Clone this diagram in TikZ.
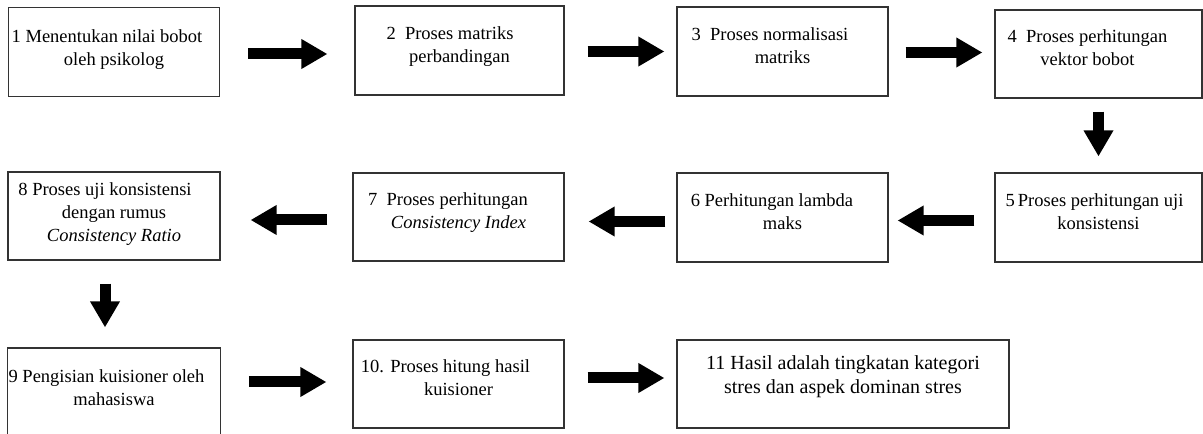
\documentclass[tikz,border=0pt]{standalone}
\usepackage{fontspec}
\setmainfont{Liberation Serif}
\usetikzlibrary{arrows.meta}

\tikzset{
  lift/.style={execute at end node={\rule[-#1]{0pt}{0pt}}},
  box/.style={draw=black!80,line width=1.1pt,rectangle,align=center,
    minimum width=211pt,minimum height=89pt,inner sep=1pt,
    font=\fontsize{18.5}{23}\selectfont,lift=12pt},
  blk/.style={line width=11pt,-{Triangle[length=26pt,width=28pt]}}
}
\newcommand{\gap}[1]{\hspace*{#1pt}}
\newcommand{\tall}[1]{\rule{0pt}{#1pt}}

\begin{document}
\begin{tikzpicture}[x=1pt,y=1pt]
  \useasboundingbox (0,0) rectangle (1203,434);
  % first row
  \node[box,lift=0pt] (b1) at (114,382) {\tall{16.2}1 Menentukan nilai bobot\gap{14}\\oleh psikolog};
  \node[box,minimum width=209pt] (b2) at (459.5,383.5) {2~~Proses matriks\gap{19}\\perbandingan};
  \node[box] (b3) at (782.5,382.5) {3~~Proses normalisasi\gap{25}\\matriks};
  \node[box,minimum width=207pt,minimum height=88pt] (b4) at (1098.5,380) {4~~Proses perhitungan\gap{22}\\vektor bobot\gap{22}};
  % second row
  \node[box,minimum width=207pt] (b5) at (1098.5,216.5) {5\,Proses perhitungan uji\gap{8}\\konsistensi};
  \node[box] (b6) at (782.5,216.5) {6 Perhitungan lambda\gap{21}\\maks};
  \node[box,minimum height=88pt] (b7) at (458.5,217) {7~~Proses perhitungan\gap{21}\\\textit{Consistency Index}};
  \node[box,minimum width=212pt,minimum height=88pt,lift=0pt] (b8) at (114,218) {\tall{17.3}8 Proses uji konsistensi\gap{18}\\dengan rumus\\\textit{Consistency Ratio}};
  % third row
  \node[box,minimum width=212pt,minimum height=88pt,lift=9pt] (b9) at (114,42) {\tall{15.6}9 Pengisian kuisioner oleh\gap{15}\\mahasiswa};
  \node[box,minimum height=88pt,lift=11pt] (b10) at (458.5,50) {10. Proses hitung hasil\gap{26}\\kuisioner};
  \node[box,minimum width=332pt,minimum height=88pt,lift=18pt,
    font=\fontsize{20}{24}\selectfont] (b11) at (843,50) {11 Hasil adalah tingkatan kategori\\stres dan aspek dominan stres};

  % arrows
  \draw[blk,shorten <=28pt,shorten >=27pt] ([yshift=-2pt]b1.east) -- ([yshift=-2pt]b1.east -| b2.west);
  \draw[blk,shorten <=23pt,shorten >=12pt] ([yshift=-1pt]b2.east) -- ([yshift=-1pt]b2.east -| b3.west);
  \draw[blk,shorten <=17pt,shorten >=12pt] ([yshift=-1pt]b3.east) -- ([yshift=-1pt]b3.east -| b4.west);
  \draw[blk,shorten <=13pt,shorten >=16pt] (b4.south) -- (b4.south |- b5.north);
  \draw[blk,shorten <=20pt,shorten >=9pt] ([yshift=-3pt]b5.west) -- ([yshift=-3pt]b5.west -| b6.east);
  \draw[blk,shorten <=11pt,shorten >=24pt] ([yshift=-4pt]b6.west) -- ([yshift=-4pt]b6.west -| b7.east);
  \draw[blk,shorten <=25pt,shorten >=30pt] ([yshift=-3pt]b7.west) -- ([yshift=-3pt]b7.west -| b8.east);
  \draw[blk,shorten <=23pt,shorten >=20pt] ([xshift=-9pt]b8.south) -- ([xshift=-9pt]b8.south |- b9.north);
  \draw[blk,shorten <=28pt,shorten >=26pt] ([yshift=2pt]b9.east |- b10.west) -- ([yshift=2pt]b10.west);
  \draw[blk,shorten <=23pt,shorten >=12pt] ([yshift=6pt]b10.east) -- ([yshift=6pt]b11.west);
\end{tikzpicture}
\end{document}
